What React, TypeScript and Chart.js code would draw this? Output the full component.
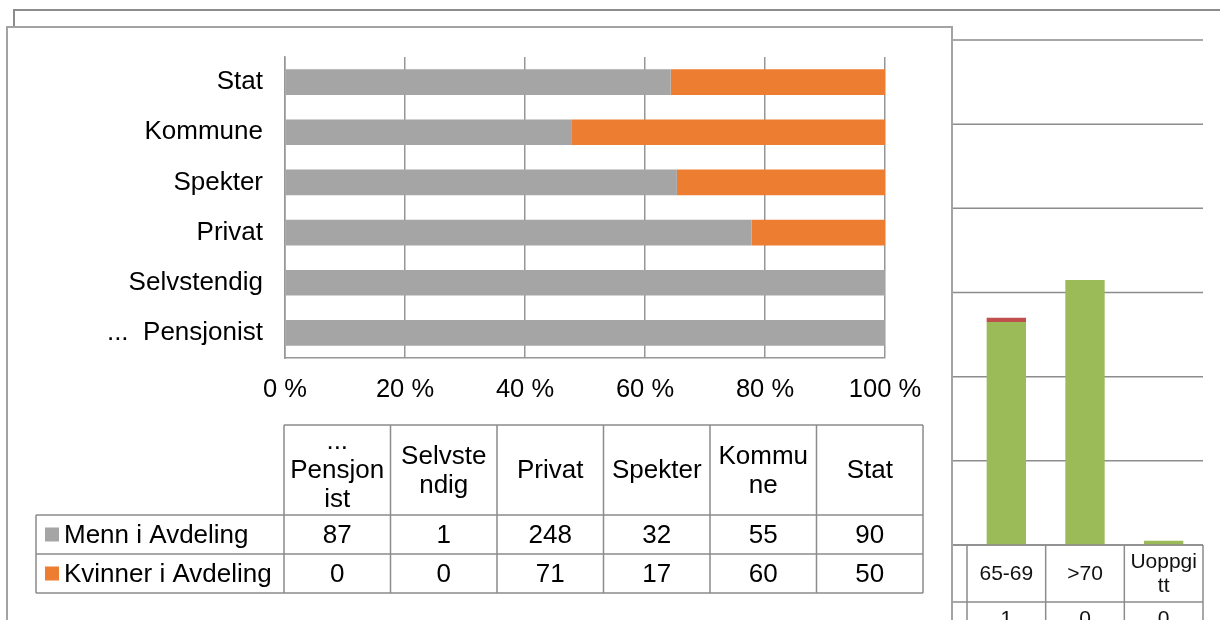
import React, { useEffect, useRef } from "react";
import { Chart, registerables } from "chart.js";

Chart.register(...registerables);

// ---------- Front chart data ----------
const categories = ["...  Pensjonist", "Selvstendig", "Privat", "Spekter", "Kommune", "Stat"];
const seriesNames = ["Menn i Avdeling", "Kvinner i Avdeling"];
const menn = [87, 1, 248, 32, 55, 90];
const kvinner = [0, 0, 71, 17, 60, 50];
const xTickValues = [0, 20, 40, 60, 80, 100];

// ---------- Background chart data (partly visible) ----------
const bgCategories = ["65-69", ">70", "Uoppgitt"];
const bgGreen = [53, 63, 1];
const bgRed = [1, 0, 0];
const bgTicks = [0, 20, 40, 60, 80, 100, 120];

const FONT = "'Liberation Sans', Arial, sans-serif";
const GRAY = "#A5A5A5";
const ORANGE = "#ED7D31";
const GREEN = "#9BBB59";
const RED = "#C0504D";
const LINE = "#8c8c8c";

function share(a: number[], b: number[]) {
  return a.map((v, i) => (v + b[i] === 0 ? 0 : (v / (v + b[i])) * 100));
}

function wrapText(ctx: CanvasRenderingContext2D, text: string, maxW: number): string[] {
  const words = text.split(/\s+/).filter((w) => w.length > 0);
  const lines: string[] = [];
  let cur = "";
  const pushWord = (w: string) => {
    let rest = w;
    while (ctx.measureText(rest).width > maxW) {
      let k = rest.length;
      while (k > 1 && ctx.measureText(rest.slice(0, k)).width > maxW) k--;
      lines.push(rest.slice(0, k));
      rest = rest.slice(k);
    }
    return rest;
  };
  for (const w of words) {
    const cand = cur ? cur + " " + w : w;
    if (ctx.measureText(cand).width <= maxW) {
      cur = cand;
    } else {
      if (cur) lines.push(cur);
      cur = pushWord(w);
    }
  }
  if (cur) lines.push(cur);
  return lines;
}

const frontTablePlugin = {
  id: "frontTable",
  afterDraw(chart: any) {
    const ctx: CanvasRenderingContext2D = chart.ctx;
    const left = 284;
    const legendLeft = 36;
    const colW = 106.5;
    const headTop = 425;
    const headBottom = 515;
    const rowH = 39;
    const n = categories.length;
    const right = left + colW * n;
    const rows = [menn, kvinner];
    const colors = [GRAY, ORANGE];
    const bottom = headBottom + rowH * rows.length;
    ctx.save();
    ctx.strokeStyle = LINE;
    ctx.lineWidth = 1.5;
    ctx.beginPath();
    ctx.moveTo(left, headTop);
    ctx.lineTo(right, headTop);
    for (let r = 0; r <= rows.length; r++) {
      const y = headBottom + r * rowH;
      ctx.moveTo(legendLeft, y);
      ctx.lineTo(right, y);
    }
    ctx.moveTo(legendLeft, headBottom);
    ctx.lineTo(legendLeft, bottom);
    for (let c = 0; c <= n; c++) {
      const x = left + c * colW;
      ctx.moveTo(x, headTop);
      ctx.lineTo(x, bottom);
    }
    ctx.stroke();

    ctx.fillStyle = "#000";
    ctx.font = `26px ${FONT}`;
    ctx.textAlign = "center";
    ctx.textBaseline = "middle";
    const headMid = (headTop + headBottom) / 2;
    categories.forEach((cat, c) => {
      const lines = wrapText(ctx, cat, colW - 10.5);
      const lh = 29;
      const start = headMid - ((lines.length - 1) * lh) / 2;
      const cx = left + c * colW + colW / 2;
      lines.forEach((ln, i) => ctx.fillText(ln, cx, start + i * lh + 1));
    });
    rows.forEach((vals, r) => {
      const cy = headBottom + r * rowH + rowH / 2 + 1;
      vals.forEach((v, c) => {
        ctx.fillText(String(v), left + c * colW + colW / 2, cy);
      });
      ctx.fillStyle = colors[r];
      ctx.fillRect(legendLeft + 9, cy - 8, 14, 14);
      ctx.fillStyle = "#000";
      ctx.textAlign = "left";
      ctx.fillText(seriesNames[r], legendLeft + 28, cy);
      ctx.textAlign = "center";
    });
    ctx.restore();
  },
};

const bgPlugin = {
  id: "bgDecor",
  beforeDatasetsDraw(chart: any) {
    const ctx: CanvasRenderingContext2D = chart.ctx;
    const y = chart.scales.y;
    const area = chart.chartArea;
    const x = chart.scales.x;
    const catW = x.getPixelForValue(1) - x.getPixelForValue(0);
    ctx.save();
    ctx.strokeStyle = LINE;
    ctx.lineWidth = 2;
    ctx.strokeRect(14, 10, 1400, 1000);
    ctx.lineWidth = 1.5;
    ctx.beginPath();
    bgTicks.forEach((t) => {
      const py = y.getPixelForValue(t);
      ctx.moveTo(area.left - catW, py);
      ctx.lineTo(area.right, py);
    });
    ctx.stroke();
    ctx.restore();
  },
  afterDraw(chart: any) {
    const ctx: CanvasRenderingContext2D = chart.ctx;
    const x = chart.scales.x;
    const area = chart.chartArea;
    const catW = x.getPixelForValue(1) - x.getPixelForValue(0);
    const top = area.bottom;
    const headBottom = top + 57;
    const rowH = 30;
    ctx.save();
    ctx.strokeStyle = LINE;
    ctx.lineWidth = 1.5;
    ctx.beginPath();
    ctx.moveTo(area.left - catW, top);
    ctx.lineTo(area.right, top);
    ctx.moveTo(area.left - catW, headBottom);
    ctx.lineTo(area.right, headBottom);
    for (let i = 0; i <= bgCategories.length; i++) {
      const px = area.left + i * catW;
      ctx.moveTo(px, top);
      ctx.lineTo(px, headBottom + rowH * 2);
    }
    ctx.stroke();
    ctx.fillStyle = "#111";
    ctx.font = `21px ${FONT}`;
    ctx.textAlign = "center";
    ctx.textBaseline = "middle";
    const mid = (top + headBottom) / 2;
    bgCategories.forEach((cat, i) => {
      const cx = x.getPixelForValue(i);
      const lines = wrapText(ctx, cat, catW - 10);
      const lh = 24;
      const start = mid - ((lines.length - 1) * lh) / 2;
      lines.forEach((ln, k) => ctx.fillText(ln, cx, start + k * lh + 1));
      ctx.fillText(String(bgRed[i]), cx, headBottom + rowH / 2 + 2);
    });
    ctx.restore();
  },
};

export default function App() {
  const bgRef = useRef<HTMLCanvasElement | null>(null);
  const frontRef = useRef<HTMLCanvasElement | null>(null);

  useEffect(() => {
    if (!bgRef.current || !frontRef.current) return;

    const bg = new Chart(bgRef.current, {
      type: "bar",
      data: {
        labels: bgCategories,
        datasets: [
          { label: "A", data: bgGreen, backgroundColor: GREEN, barPercentage: 0.5, categoryPercentage: 1 },
          { label: "B", data: bgRed, backgroundColor: RED, barPercentage: 0.5, categoryPercentage: 1 },
        ],
      },
      options: {
        responsive: false,
        animation: false,
        layout: { padding: { left: 967, right: 17, top: 40, bottom: 75 } },
        plugins: { legend: { display: false }, tooltip: { enabled: false } },
        scales: {
          x: { stacked: true, display: false },
          y: { stacked: true, display: false, min: 0, max: 120, ticks: { stepSize: 20 } },
        },
      },
      plugins: [bgPlugin],
    });

    const fontObj = { family: FONT, size: 26 };
    const front = new Chart(frontRef.current, {
      type: "bar",
      data: {
        labels: categories,
        datasets: [
          {
            label: seriesNames[0],
            data: share(menn, kvinner),
            backgroundColor: GRAY,
            barPercentage: 0.51,
            categoryPercentage: 1,
          },
          {
            label: seriesNames[1],
            data: share(kvinner, menn),
            backgroundColor: ORANGE,
            barPercentage: 0.51,
            categoryPercentage: 1,
          },
        ],
      },
      options: {
        indexAxis: "y",
        responsive: false,
        animation: false,
        layout: { padding: { left: 0, right: 335, top: 57, bottom: 0 } },
        plugins: { legend: { display: false }, tooltip: { enabled: false } },
        scales: {
          x: {
            stacked: true,
            min: xTickValues[0],
            max: xTickValues[xTickValues.length - 1],
            afterBuildTicks: (s: any) => {
              s.ticks = xTickValues.map((v) => ({ value: v }));
            },
            afterFit: (s: any) => {
              s.height = 262;
            },
            ticks: {
              color: "#000",
              font: { family: FONT, size: 25.5 },
              padding: 17,
              maxRotation: 0,
              autoSkip: false,
              callback: (v: any) => `${v} %`,
            },
            grid: { color: "#969696", lineWidth: 1.5, drawTicks: false },
            border: { display: true, color: "#969696", width: 1.5 },
          },
          y: {
            stacked: true,
            reverse: true,
            afterFit: (s: any) => {
              s.width = 285;
            },
            ticks: { color: "#000", font: fontObj, padding: 22 },
            grid: { display: false, drawTicks: false },
            border: { display: true, color: "#969696", width: 1.5 },
          },
        },
      },
      plugins: [frontTablePlugin],
    });

    return () => {
      bg.destroy();
      front.destroy();
    };
  }, []);

  return (
    <div
      style={{
        position: "absolute",
        left: 0,
        top: 0,
        width: 1220,
        height: 620,
        overflow: "hidden",
        background: "#fff",
      }}
    >
      <canvas
        ref={bgRef}
        width={1220}
        height={620}
        style={{ position: "absolute", left: 0, top: 0, width: 1220, height: 620 }}
      />
      <div
        style={{
          position: "absolute",
          left: 6,
          top: 26,
          width: 943,
          height: 700,
          border: "2px solid #a3a3a3",
          borderBottom: "none",
          background: "#fff",
        }}
      />
      <canvas
        ref={frontRef}
        width={1220}
        height={620}
        style={{ position: "absolute", left: 0, top: 0, width: 1220, height: 620 }}
      />
    </div>
  );
}
